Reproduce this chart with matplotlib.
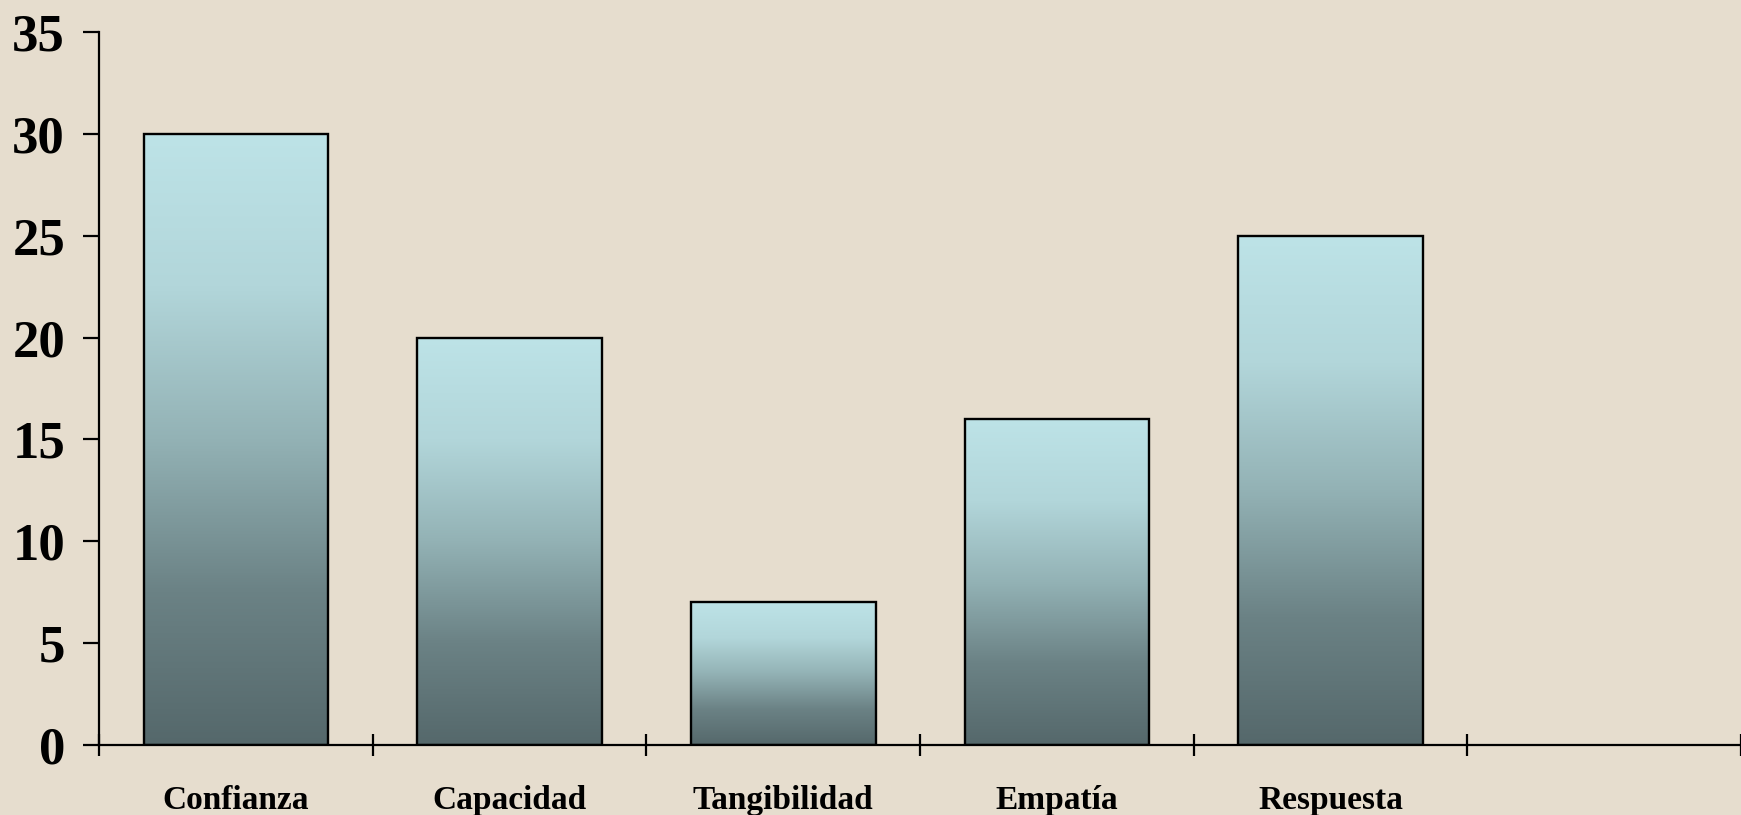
import numpy as np
import matplotlib.pyplot as plt
from matplotlib.colors import LinearSegmentedColormap

# Data
categories = ["Confianza", "Capacidad", "Tangibilidad", "Empatía", "Respuesta"]
values = [30, 20, 7, 16, 25]
n_slots = 6  # the axis has one empty slot on the right

bg = "#E6DDCE"
grad = LinearSegmentedColormap.from_list(
    "bar", [(0.0, "#55686B"), (0.25, "#6B8285"), (0.5, "#93B2B5"),
            (0.75, "#B2D6DA"), (1.0, "#BDE3E7")])

plt.rcParams["font.family"] = ["Liberation Serif", "DejaVu Serif"]
plt.rcParams["font.weight"] = "bold"

fig = plt.figure(figsize=(17.41, 8.15), dpi=100, facecolor=bg)
ax = fig.add_axes([0.0569, 0.0859, 0.9431, 0.8748])
ax.set_facecolor(bg)

x = np.arange(len(categories)) + 0.5
width = 0.675
bars = ax.bar(x, values, width=width, facecolor="none", edgecolor="black",
              linewidth=1.7, zorder=3)

# vertical gradient fill inside each bar
g = np.linspace(0, 1, 256).reshape(-1, 1)
for b in bars:
    x0, y0 = b.get_x(), b.get_y()
    ax.imshow(g, cmap=grad, origin="lower", aspect="auto", zorder=2,
              extent=[x0, x0 + b.get_width(), y0, y0 + b.get_height()])

ax.set_xlim(0, n_slots)
ax.set_ylim(0, 35)
ax.set_yticks(range(0, 36, 5))
ax.set_xticks(range(0, n_slots + 1))
ax.set_xticklabels([])
ax.set_xticks(x, minor=True)
ax.set_xticklabels(categories, minor=True, fontsize=24, fontweight="bold")

for s in ["top", "right"]:
    ax.spines[s].set_visible(False)
for s in ["left", "bottom"]:
    ax.spines[s].set_linewidth(1.6)

ax.tick_params(axis="y", direction="out", length=11.5, width=1.6,
               labelsize=38, pad=13)
ax.tick_params(axis="x", which="major", direction="inout", length=16, width=1.6)
ax.tick_params(axis="x", which="minor", length=0, pad=29)

plt.savefig("out.png", dpi=100, facecolor=bg)
plt.close()
